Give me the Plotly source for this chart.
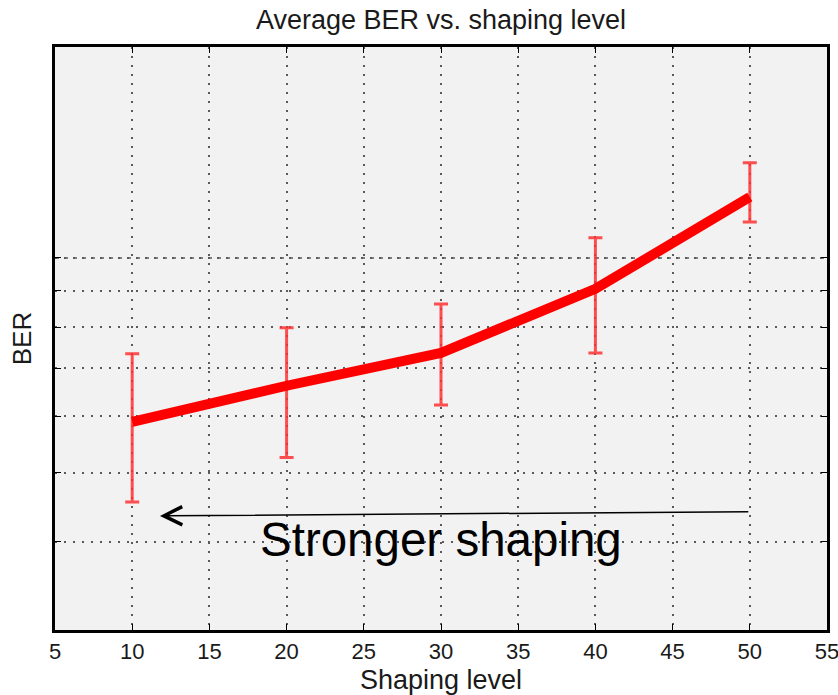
import numpy as np
import plotly.graph_objects as go

# ---- data ----
shaping_level = [10, 20, 30, 40, 50]
ber_mean = [5.89e-3, 6.62e-3, 7.36e-3, 9.05e-3, 1.217e-2]
ber_upper = [7.34e-3, 7.98e-3, 8.62e-3, 1.067e-2, 1.359e-2]
ber_lower = [4.55e-3, 5.25e-3, 6.22e-3, 7.36e-3, 1.123e-2]
x_ticks = [5, 10, 15, 20, 25, 30, 35, 40, 45, 50, 55]
y_grid = [3e-3, 4e-3, 5e-3, 6e-3, 7e-3, 8e-3, 9e-3, 1e-2]
y_major = [1e-2]
x_range = [5, 55]
y_range_vals = [3.01e-3, 1.975e-2]

# arrow annotation (data coords)
arrow_head = (11.8, 4.35e-3)
arrow_tail = (50, 4.41e-3)
label_pos = (30, 4.03e-3)

err_plus = [u - m for u, m in zip(ber_upper, ber_mean)]
err_minus = [m - l for m, l in zip(ber_mean, ber_lower)]

FONT = "Liberation Sans, Arial, sans-serif"
GRID = "#5a5a5a"

fig = go.Figure()

# major gridline (dashed)
fig.add_trace(go.Scatter(
    x=x_range, y=y_major * 2, mode="lines",
    line=dict(color=GRID, width=1.5, dash="4px,5px"),
    hoverinfo="skip", showlegend=False))

# error bars
fig.add_trace(go.Scatter(
    x=shaping_level, y=ber_mean, mode="markers",
    marker=dict(size=1, color="rgba(0,0,0,0)"),
    error_y=dict(type="data", symmetric=False, array=err_plus, arrayminus=err_minus,
                 color="rgba(255,50,50,0.85)", thickness=3, width=7),
    showlegend=False))

# mean line
fig.add_trace(go.Scatter(
    x=shaping_level, y=ber_mean, mode="lines",
    line=dict(color="#ff0000", width=10),
    showlegend=False))

fig.add_annotation(
    x=arrow_head[0], y=np.log10(arrow_head[1]), xref="x", yref="y",
    ax=arrow_tail[0], ay=np.log10(arrow_tail[1]), axref="x", ayref="y",
    text="", showarrow=True, arrowhead=5, arrowsize=2.4, arrowwidth=1.5,
    arrowcolor="black", standoff=0)

fig.add_annotation(
    x=label_pos[0], y=np.log10(label_pos[1]), xref="x", yref="y",
    text="Stronger shaping", showarrow=False,
    font=dict(family=FONT, size=47.5, color="black"))

fig.update_layout(
    width=838, height=695,
    margin=dict(l=55, r=11, t=47, b=65, autoexpand=False),
    paper_bgcolor="white", plot_bgcolor="#f2f2f2",
    title=dict(text="Average BER vs. shaping level", x=0.5, xref="paper",
               y=1 - 20 / 695, yref="container", yanchor="middle", xanchor="center",
               font=dict(family=FONT, size=27, color="#1a1a1a")),
    font=dict(family=FONT, color="#1a1a1a"),
)

fig.update_xaxes(
    range=x_range, tickvals=x_ticks, ticktext=[str(v) for v in x_ticks],
    ticks="inside", ticklen=6, tickcolor="black", tickwidth=1,
    showline=True, linecolor="black", linewidth=2.5, mirror="ticks",
    showgrid=True, gridcolor=GRID, gridwidth=1.5, griddash="2px,7px",
    tickfont=dict(size=22, family=FONT), zeroline=False, automargin=False,
    ticklabeloverflow="allow",
    title=dict(text="Shaping level", font=dict(size=27, family=FONT), standoff=7),
)

fig.update_yaxes(
    type="log", range=[np.log10(y_range_vals[0]), np.log10(y_range_vals[1])],
    tickvals=y_grid, showticklabels=False,
    ticks="inside", ticklen=6, tickcolor="black", tickwidth=1,
    showline=True, linecolor="black", linewidth=2.5, mirror="ticks",
    showgrid=True, gridcolor=GRID, gridwidth=1.5, griddash="2px,7px",
    zeroline=False, automargin=False,
    title=dict(text="BER", font=dict(size=26, family=FONT), standoff=14),
)

fig.write_html("out.html")
